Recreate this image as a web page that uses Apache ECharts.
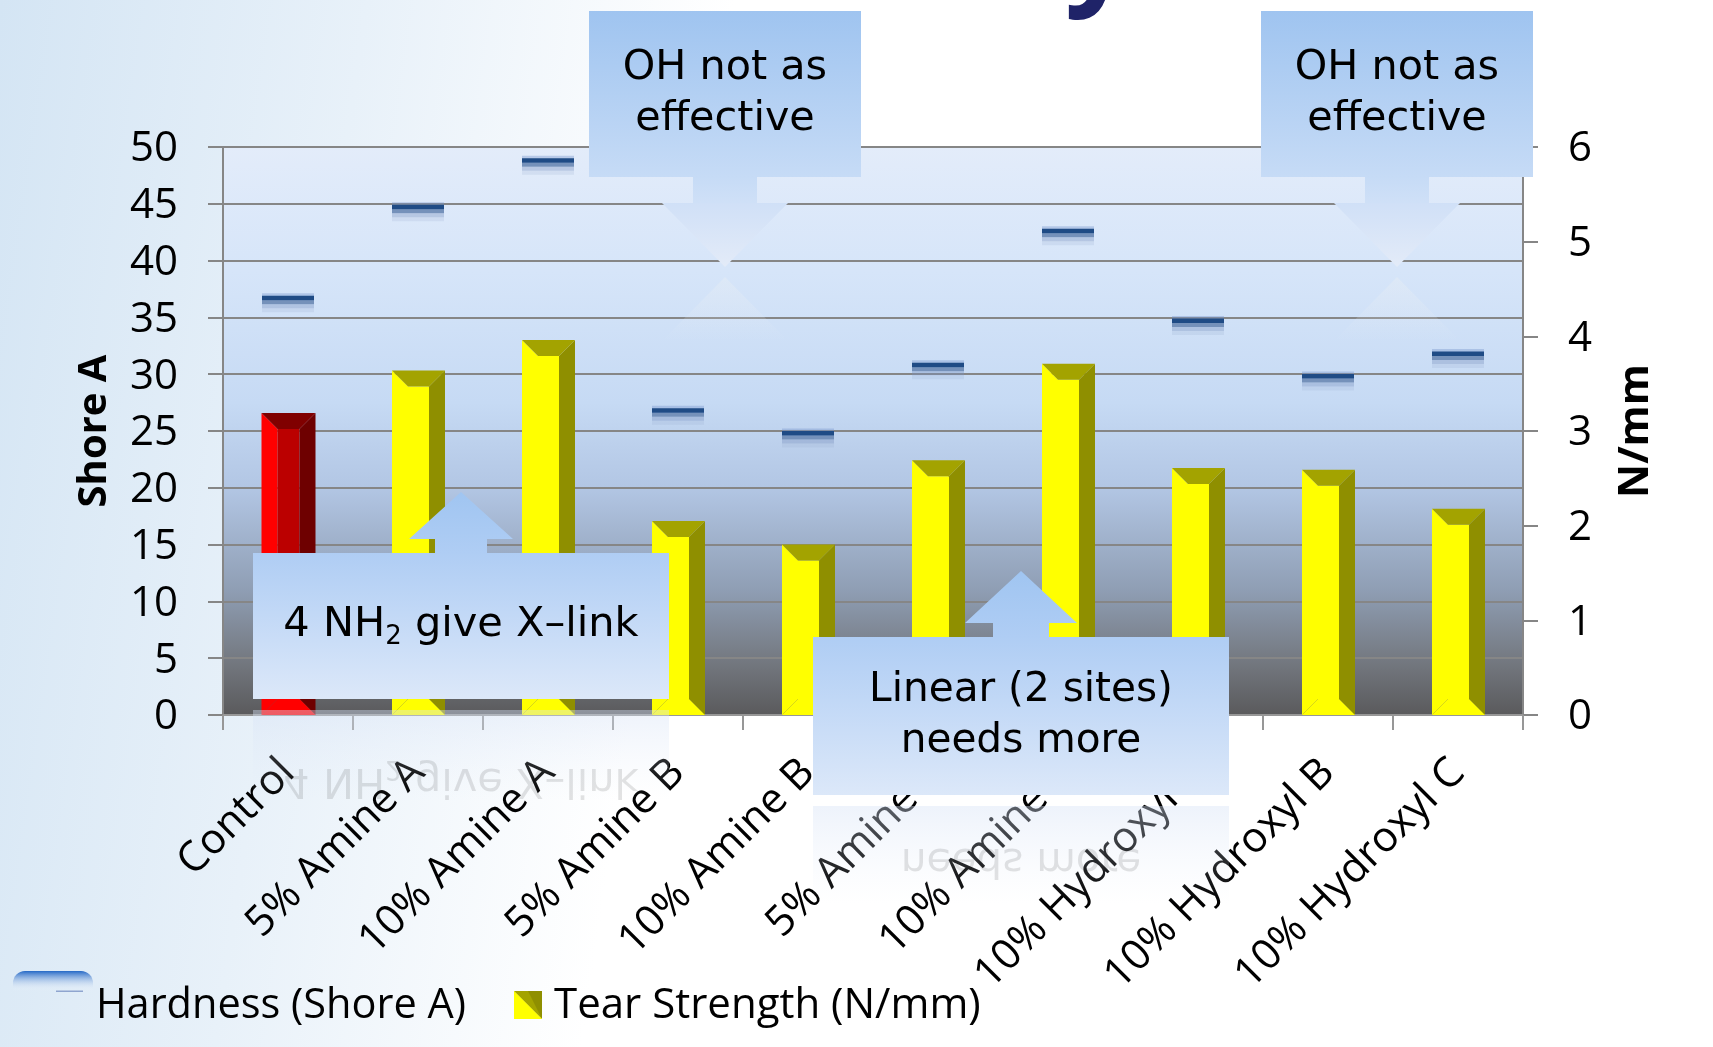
<!DOCTYPE html>
<html>
<head>
<meta charset="utf-8">
<style>html,body{margin:0;padding:0;background:#fff}#c{width:1713px;height:1047px}</style>
<script src="https://cdn.jsdelivr.net/npm/echarts@6/dist/echarts.min.js"></script>
</head>
<body>
<div id="c"></div>
<script>
const categories = ['Control','5% Amine A','10% Amine A','5% Amine B','10% Amine B','5% Amine C','10% Amine C','10% Hydroxyl A','10% Hydroxyl B','10% Hydroxyl C'];
const hardness = [36.6,44.6,48.7,26.7,24.7,30.7,42.5,34.6,29.7,31.7];
const tearStrength = [3.19,3.64,3.96,2.05,1.80,2.69,3.71,2.61,2.59,2.18];
const shoreTicks = {min:0,max:50,interval:5};
const tearTicks = {min:0,max:6,interval:1};
const notes = [
  {text:'OH not as\neffective'},
  {text:'OH not as\neffective'},
  {text:'4 NH{s|2} give X–link', mirror:'4 NH{s|2} give X–link'},
  {text:'Linear (2 sites)\nneeds more', mirror:'needs more'}
];

const UI = '"Open Sans"', CALL = '"DejaVu Sans"';
const vg = (a, b) => ({type:'linear',x:0,y:0,x2:0,y2:1,colorStops:[{offset:0,color:a},{offset:1,color:b}]});
const poly = (pts, fill, z) => ({type:'polygon',shape:{points:pts},style:{fill},z:z||50,silent:true});
const rect = (x,y,w,h,fill,z,r) => ({type:'rect',shape:{x,y,width:w,height:h,r:r||0},style:{fill},z:z||50,silent:true});
const subRich = (fill) => ({s:{font:'26px '+CALL,fill:fill,verticalAlign:'bottom',lineHeight:26,height:26}});
const txt = (x,y,t,size,lh) => ({type:'text',x,y,z:52,silent:true,style:{text:t,fill:'#000',font:size+'px '+CALL,textAlign:'center',textVerticalAlign:'middle',lineHeight:lh,rich:subRich('#000')}});

function downCallout(x0, note){
  const cx = x0+136;
  return [
    rect(x0,11,272,166,vg('#9fc4f0','#c6dbf6')),
    poly([[cx-32,177],[cx+32,177],[cx+32,203],[cx-32,203]],vg('#c6dbf6','#cfe0f7')),
    poly([[cx-63,203],[cx+63,203],[cx,267]],vg('#d0e0f7','#e3ebf8')),
    poly([[cx,277],[cx+63,341],[cx-63,341]],vg('rgba(232,238,244,0.42)','rgba(232,238,244,0)')),
    txt(cx,94,note.text,41.3,51)
  ];
}
function upCallout(bx,by,bw,bh,stemW,headW,headBase,tip,note,size,textY,mirrorY){
  const cx = bx+bw/2;
  const ghost = 'rgba(0,0,0,0.11)';
  return [
    poly([[cx,tip],[cx+headW/2,headBase],[cx+stemW/2,headBase],[cx+stemW/2,by],[cx-stemW/2,by],[cx-stemW/2,headBase],[cx-headW/2,headBase]],vg('#a0c5f1','#afcdf4')),
    rect(bx,by,bw,bh,vg('#afcdf4','#dce8f9')),
    rect(bx,by+bh+11,bw,bh*0.62,vg('rgba(214,226,246,0.42)','rgba(230,238,250,0)'),49),
    txt(cx,textY,note.text,size,51),
    {type:'text',x:cx,y:mirrorY,scaleY:-1,z:49,silent:true,style:{text:note.mirror,font:size+'px '+CALL,textAlign:'center',textVerticalAlign:'middle',lineHeight:51,fill:ghost,rich:subRich(ghost)}}
  ];
}

const graphicEls = [].concat(
  // clipped tail of the slide title above the chart
  [{type:'text',x:1099,y:-43,z:1,silent:true,style:{text:'y',font:'bold 120px '+UI,fill:'#1f2368',textAlign:'center',textVerticalAlign:'middle'}}],
  downCallout(589,notes[0]),
  downCallout(1261,notes[1]),
  upCallout(253,553,416,146,52,104,539,492,notes[2],41.5,625,780),
  upCallout(813,637,416,158,56,112,623,571,notes[3],40.6,716,860),
  // legend keys
  [
    rect(13,971,80,20,vg('#2468c6','rgba(255,255,255,0)'),60,[12,12,0,0]),
    rect(56,990.5,27,1.5,'#8fa5cf',60),
    poly([[514,991],[542,991],[542,1019]],'#8f8f00',60),
    poly([[514,991],[528,991],[542,1019]],'#a3a300',60),
    poly([[514,991],[542,1019],[514,1019]],'#ffff00',60)
  ]
);

function renderBar(params, api){
  const i = api.value(0), v = api.value(1);
  const c = api.coord([i, v]), base = api.coord([i, 0]);
  const red = i===0;
  const w = api.size([1,0])[0]*0.4 + (red?2:1), b = 16;
  const l = c[0]-w/2+0.5, r = l+w, t = c[1], bt = base[1];
  const pal = red ? {left:'#ff0000',front:'#bb0000',right:'#6e0000',top:'#800000',bottom:'#ff0000'}
                  : {left:'#ffff00',front:'#ffff00',right:'#8f8f00',top:'#a3a300',bottom:'#ffff00'};
  const pg = (pts, fill) => ({type:'polygon',shape:{points:pts},style:{fill}});
  return {type:'group',children:[
    pg([[l,t],[l+b,t+b],[l+b,bt-b],[l,bt]],pal.left),
    pg([[l+b,t+b],[r-b,t+b],[r-b,bt-b],[l+b,bt-b]],pal.front),
    pg([[r,t],[r,bt],[r-b,bt-b],[r-b,t+b]],pal.right),
    pg([[l,t],[r,t],[r-b,t+b],[l+b,t+b]],pal.top),
    pg([[l,bt],[l+b,bt-b],[r-b,bt-b],[r,bt]],pal.bottom)
  ]};
}
function renderDash(params, api){
  const i = api.value(0), v = api.value(1);
  const c = api.coord([i, v]);
  const w = api.size([1,0])[0]*0.4, l = c[0]-w/2, y = c[1]-1;
  const r = (yy,h,fill) => ({type:'rect',shape:{x:l,y:yy,width:w,height:h},style:{fill}});
  return {type:'group',children:[
    r(y-5,8.5,'rgba(120,150,205,0.4)'),
    r(y+6,4,'rgba(120,145,190,0.38)'),
    r(y+10,4,'rgba(150,170,205,0.2)'),
    r(y+2,4,'#7591ba'),
    r(y-2.5,4.5,'#1f4b85')
  ]};
}

const chart = echarts.init(document.getElementById('c'));
chart.setOption({
  animation:false,
  backgroundColor:{type:'linear',x:0,y:0,x2:0.42,y2:0.1,colorStops:[{offset:0,color:'#d4e5f4'},{offset:0.5,color:'#e8f1f9'},{offset:1,color:'#ffffff'}]},
  textStyle:{fontFamily:UI},
  grid:{left:223,right:190,top:147,height:568,show:true,borderWidth:0,
    backgroundColor:{type:'linear',x:0,y:0,x2:0,y2:1,colorStops:[
      {offset:0,color:'#e3ecfa'},{offset:0.22,color:'#d6e5f9'},{offset:0.45,color:'#c6daf4'},
      {offset:0.6,color:'#b2c6e4'},{offset:0.78,color:'#8f9eb4'},{offset:0.9,color:'#757a82'},{offset:1,color:'#5a5a5c'}]}},
  legend:[
    {data:['Hardness (Shore A)'],left:14,top:980,itemWidth:72,itemHeight:20,itemStyle:{opacity:0},textStyle:{fontSize:41.5,fontFamily:UI,color:'#000'}},
    {data:['Tear Strength (N/mm)'],left:514,top:980,itemWidth:30,itemHeight:20,itemStyle:{opacity:0},textStyle:{fontSize:42,fontFamily:UI,color:'#000'}}
  ],
  xAxis:{type:'category',data:categories,boundaryGap:true,
    axisLine:{show:true,lineStyle:{color:'#979797',width:2}},
    axisTick:{show:true,length:15,alignWithLabel:false,lineStyle:{color:'#979797',width:2}},
    axisLabel:{rotate:45,interval:0,margin:51,fontSize:42,fontFamily:UI,color:'#000',padding:[10,0,0,0]}},
  yAxis:[
    Object.assign({type:'value',position:'left',name:'Shore A',nameLocation:'middle',nameGap:108,
      nameTextStyle:{fontSize:40,fontWeight:'bold',fontFamily:UI,color:'#000'},
      axisLine:{show:true,lineStyle:{color:'#868686',width:2}},
      axisTick:{show:true,length:15,lineStyle:{color:'#868686',width:2}},
      axisLabel:{margin:45,fontSize:42,fontFamily:UI,color:'#000',verticalAlign:'top',lineHeight:5},
      splitLine:{show:true,lineStyle:{color:'#868686',width:2}}},shoreTicks),
    Object.assign({type:'value',position:'right',name:'N/mm',nameLocation:'middle',nameRotate:90,nameGap:92,
      nameTextStyle:{fontSize:42,fontWeight:'bold',fontFamily:UI,color:'#000'},
      axisLine:{show:true,lineStyle:{color:'#868686',width:2}},
      axisTick:{show:true,length:15,lineStyle:{color:'#868686',width:2}},
      axisLabel:{margin:45,fontSize:42,fontFamily:UI,color:'#000',verticalAlign:'top',lineHeight:5},
      splitLine:{show:false}},tearTicks)
  ],
  series:[
    {name:'Hardness (Shore A)',type:'custom',yAxisIndex:0,renderItem:renderDash,encode:{x:0,y:1},z:5,
      data:hardness.map((v,i)=>[i,v])},
    {name:'Tear Strength (N/mm)',type:'custom',yAxisIndex:1,renderItem:renderBar,encode:{x:0,y:1},z:4,
      data:tearStrength.map((v,i)=>[i,v])}
  ],
  graphic:graphicEls
});
</script>
</body>
</html>
